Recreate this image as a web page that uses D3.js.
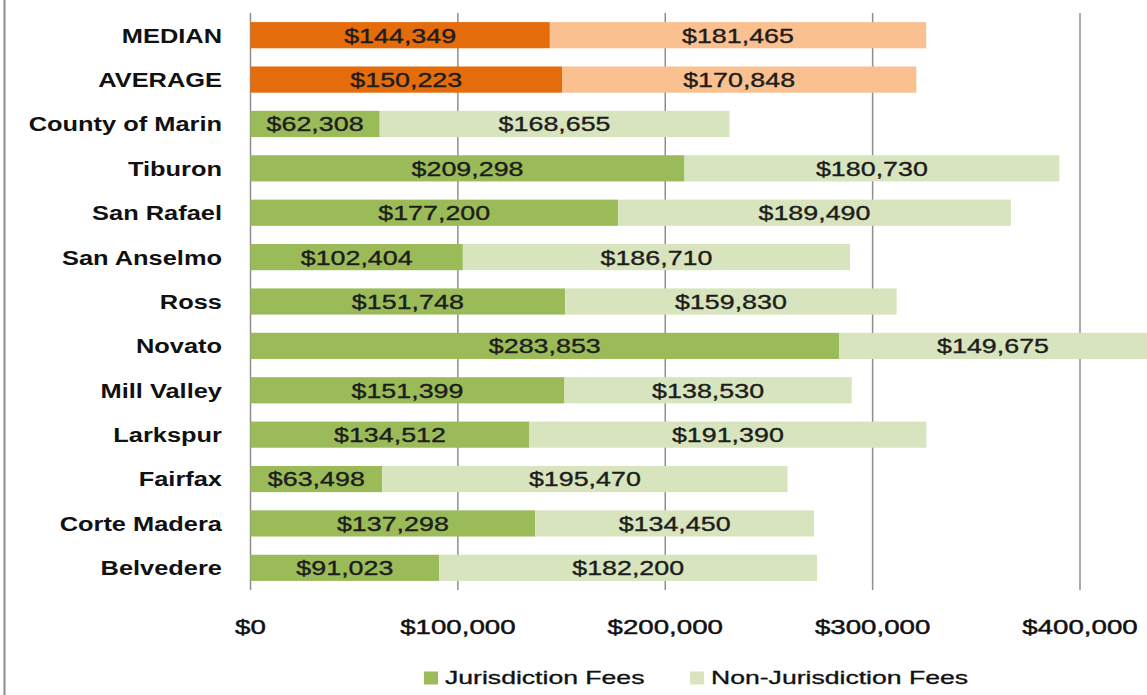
<!DOCTYPE html>
<html>
<head>
<meta charset="utf-8">
<script src="https://cdn.jsdelivr.net/npm/d3@7"></script>
<style>
  body { margin: 0; background: #fff; }
  svg { display: block; font-family: "Liberation Sans", Arial, sans-serif; }
</style>
</head>
<body>
<svg id="chart" width="1147" height="695"></svg>
<script>
// categories, top to bottom
const categories = ["MEDIAN", "AVERAGE", "County of Marin", "Tiburon", "San Rafael", "San Anselmo",
    "Ross", "Novato", "Mill Valley", "Larkspur", "Fairfax", "Corte Madera", "Belvedere"];
const jurisdictionFees = [144349, 150223, 62308, 209298, 177200, 102404,
    151748, 283853, 151399, 134512, 63498, 137298, 91023];
const nonJurisdictionFees = [181465, 170848, 168655, 180730, 189490, 186710,
    159830, 149675, 138530, 191390, 195470, 134450, 182200];
const xTicks = [0, 100000, 200000, 300000, 400000];
const seriesNames = ["Jurisdiction Fees", "Non-Jurisdiction Fees"];

const svg = d3.select('#chart');
const width = 1147, height = 695;

// the source picture is stretched sideways, so text gets a horizontal scale
const stretch = (x, y, sx) => `translate(${x}, ${y}) scale(${sx}, 1)`;

// left border line of the picture
svg.append('line')
    .attr('x1', 4.5).attr('x2', 4.5)
    .attr('y1', 0).attr('y2', height)
    .attr('stroke', '#8c8c8c')
    .attr('stroke-width', 2);

const xScale = d3.scaleLinear()
    .domain([0, 400000])
    .range([250.5, 1080]);

const yScale = d3.scaleBand()
    .domain(categories)
    .range([13, 590])
    .paddingInner(0.41)
    .paddingOuter(0.205);

const isSummary = name => name === "MEDIAN" || name === "AVERAGE";
const colours = {
    summary: ["#E46C0A", "#FAC090"],
    normal: ["#9BBB59", "#D7E4BD"]
};

// grid lines
svg.append('g')
    .attr('class', 'grid')
    .selectAll('line')
    .data(xTicks)
    .enter()
    .append('line')
    .attr('x1', d => xScale(d))
    .attr('x2', d => xScale(d))
    .attr('y1', 13)
    .attr('y2', 590)
    .attr('stroke', '#8e8e8e')
    .attr('stroke-width', 1.5);

const rows = categories.map((name, i) => ({
    name,
    j: jurisdictionFees[i],
    n: nonJurisdictionFees[i]
}));

const barGroups = svg.append('g')
    .selectAll('g')
    .data(rows)
    .enter()
    .append('g');

barGroups.append('rect')
    .attr('x', d => xScale(0))
    .attr('y', d => yScale(d.name))
    .attr('width', d => xScale(d.j) - xScale(0))
    .attr('height', yScale.bandwidth())
    .attr('fill', d => isSummary(d.name) ? colours.summary[0] : colours.normal[0]);

barGroups.append('rect')
    .attr('x', d => xScale(d.j))
    .attr('y', d => yScale(d.name))
    .attr('width', d => xScale(d.j + d.n) - xScale(d.j))
    .attr('height', yScale.bandwidth())
    .attr('fill', d => isSummary(d.name) ? colours.summary[1] : colours.normal[1]);

const fmt = v => '$' + d3.format(',')(v);
const midY = name => yScale(name) + yScale.bandwidth() / 2;

function valueText(sel, xFn, textFn) {
    sel.append('text')
        .attr('transform', d => stretch(xFn(d), midY(d.name), 1.31))
        .attr('dy', '0.36em')
        .attr('text-anchor', 'middle')
        .attr('font-size', 20.5)
        .attr('fill', '#1c1c1c')
        .attr('stroke', '#1c1c1c')
        .attr('stroke-width', 0.35)
        .text(textFn);
}
valueText(barGroups, d => (xScale(0) + xScale(d.j)) / 2, d => fmt(d.j));
valueText(barGroups, d => (xScale(d.j) + Math.min(xScale(d.j + d.n), width)) / 2, d => fmt(d.n));

// category labels
svg.append('g')
    .selectAll('text')
    .data(categories)
    .enter()
    .append('text')
    .attr('transform', d => stretch(222, midY(d), 1.24))
    .attr('dy', '0.36em')
    .attr('text-anchor', 'end')
    .attr('font-size', 20.5)
    .attr('font-weight', 'bold')
    .attr('fill', '#111')
    .text(d => d);

// x tick labels
svg.append('g')
    .selectAll('text')
    .data(xTicks)
    .enter()
    .append('text')
    .attr('transform', d => stretch(xScale(d), 633.5, 1.35))
    .attr('text-anchor', 'middle')
    .attr('font-size', 20.5)
    .attr('fill', '#111')
    .attr('stroke', '#111')
    .attr('stroke-width', 0.45)
    .text(d => fmt(d));

// legend
const legend = svg.append('g')
    .selectAll('g')
    .data(seriesNames)
    .enter()
    .append('g')
    .attr('transform', (d, i) => `translate(${i === 0 ? 424 : 690}, 678)`);

legend.append('rect')
    .attr('x', 0)
    .attr('y', -6.5)
    .attr('width', 14)
    .attr('height', 13)
    .attr('fill', (d, i) => colours.normal[i]);

legend.append('text')
    .attr('transform', stretch(21, 0, 1.52))
    .attr('dy', '0.36em')
    .attr('font-size', 17.5)
    .attr('fill', '#111')
    .attr('stroke', '#111')
    .attr('stroke-width', 0.3)
    .text(d => d);
</script>
</body>
</html>
